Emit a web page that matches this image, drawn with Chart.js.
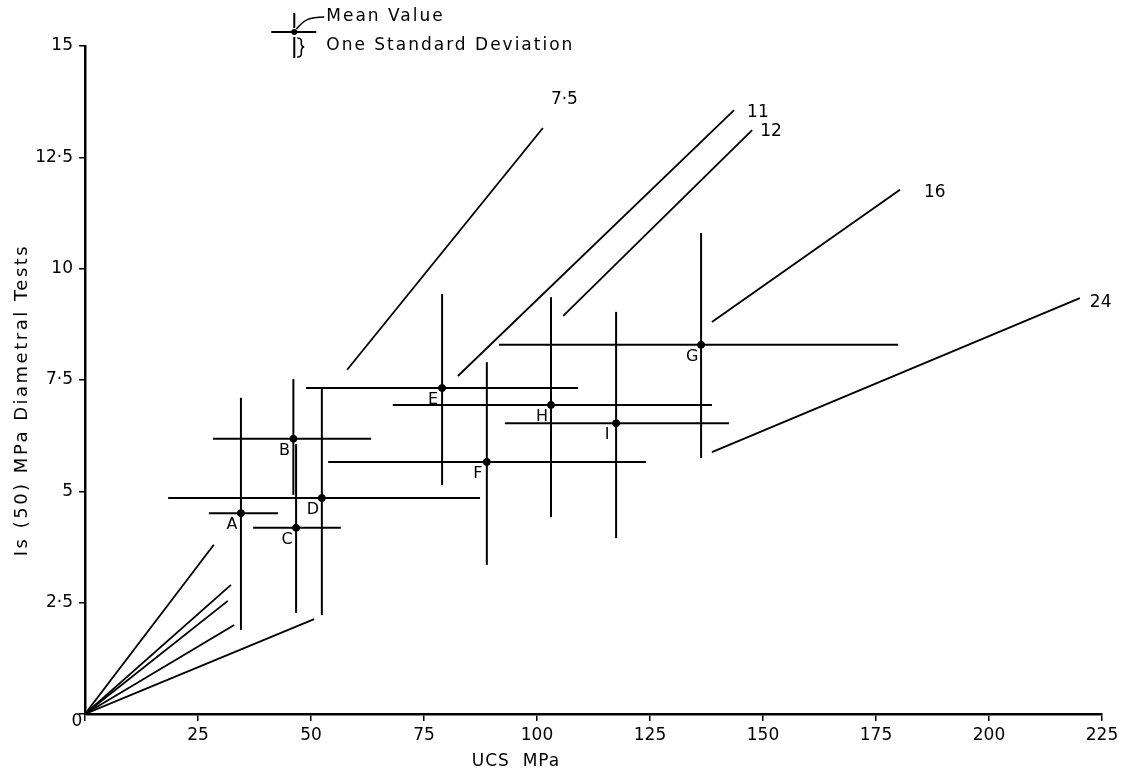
<!DOCTYPE html>
<html>
<head>
<meta charset="utf-8">
<script src="https://cdn.jsdelivr.net/npm/chart.js@4.4.1/dist/chart.umd.min.js"></script>
<style>
  html, body { margin: 0; padding: 0; background: #fff; }
  canvas { display: block; }
</style>
</head>
<body>
<canvas id="graficaIs" width="1125" height="775"></canvas>
<script>
// muestras A..I : media y una desviacion estandar (UCS MPa / Is(50) MPa)
const sampleLabels = ['A', 'B', 'C', 'D', 'E', 'F', 'G', 'H', 'I'];
const ucsMean = [34.5, 46.1, 46.7, 52.4, 79.0, 88.9, 136.3, 103.1, 117.5];
const ucsLow  = [27.4, 28.3, 37.2, 18.4, 48.9, 53.8, 91.6, 68.1, 92.9];
const ucsHigh = [42.7, 63.3, 56.6, 87.4, 109.1, 124.1, 179.9, 138.7, 142.5];
const isMean  = [4.51, 6.18, 4.18, 4.85, 7.32, 5.66, 8.29, 6.94, 6.53];
const isLow   = [1.89, 4.92, 2.27, 2.22, 5.14, 3.35, 5.75, 4.42, 3.95];
const isHigh  = [7.10, 7.52, 6.06, 7.34, 9.43, 7.90, 10.80, 9.36, 9.03];

// lineas de relacion UCS / Is
const ratioLabels = ['7·5', '11', '12', '16', '24'];
const nearEndUcs  = [28.5, 32.3, 31.6, 33.0, 50.7];
const nearEndIs   = [3.80, 2.90, 2.54, 2.00, 2.13];
const farStartUcs = [58.0, 82.5, 105.8, 138.7, 138.7];
const farStartIs  = [7.73, 7.59, 8.94, 8.80, 5.88];
const farEndUcs   = [101.3, 143.6, 147.6, 180.3, 220.1];
const farEndIs    = [13.16, 13.56, 13.11, 11.77, 9.34];

// ejes
const ucsTicks = [0, 25, 50, 75, 100, 125, 150, 175, 200, 225];
const isTicks = ['0', '2·5', '5', '7·5', '10', '12·5', '15'];

const fuente = '"DejaVu Sans", sans-serif';

let datasets = [];

sampleLabels.forEach((l, i) => {
  datasets.push({
    data: [{x: ucsLow[i], y: isMean[i]}, {x: ucsHigh[i], y: isMean[i]}],
    borderColor: '#000', borderWidth: 2, pointRadius: 0, showLine: true
  });
  datasets.push({
    data: [{x: ucsMean[i], y: isLow[i]}, {x: ucsMean[i], y: isHigh[i]}],
    borderColor: '#000', borderWidth: 2, pointRadius: 0, showLine: true
  });
});

ratioLabels.forEach((l, i) => {
  datasets.push({
    data: [{x: 0, y: 0}, {x: nearEndUcs[i], y: nearEndIs[i]}],
    borderColor: '#000', borderWidth: 1.8, pointRadius: 0, showLine: true
  });
  datasets.push({
    data: [{x: farStartUcs[i], y: farStartIs[i]}, {x: farEndUcs[i], y: farEndIs[i]}],
    borderColor: '#000', borderWidth: 1.8, pointRadius: 0, showLine: true
  });
});

datasets.push({
  label: 'Mean Value',
  data: ucsMean.map((v, i) => ({x: v, y: isMean[i]})),
  backgroundColor: '#000', borderColor: '#000',
  pointRadius: 3.5, showLine: false
});

const anotaciones = {
  id: 'anotaciones',
  afterDatasetsDraw(chart) {
    const {ctx, scales: {x, y}, chartArea} = chart;
    ctx.save();
    ctx.fillStyle = '#000';
    ctx.strokeStyle = '#000';

    // letras de las muestras
    ctx.font = '16px ' + fuente;
    ctx.textAlign = 'center';
    ctx.textBaseline = 'middle';
    sampleLabels.forEach((l, i) => {
      ctx.fillText(l, x.getPixelForValue(ucsMean[i]) - 9, y.getPixelForValue(isMean[i]) + 12);
    });

    // etiquetas de las lineas
    const offs = [[8, -28], [13, 2], [8, 1], [24, 3], [10, 5]];
    ctx.font = '17px ' + fuente;
    ctx.textAlign = 'left';
    ratioLabels.forEach((l, i) => {
      ctx.fillText(l, x.getPixelForValue(farEndUcs[i]) + offs[i][0], y.getPixelForValue(farEndIs[i]) + offs[i][1]);
    });

    // cero del origen
    ctx.textAlign = 'center';
    ctx.fillText('0', chartArea.left - 8, chartArea.bottom + 8);

    // titulos de ejes
    ctx.font = '17px ' + fuente;
    ctx.letterSpacing = '1px';
    ctx.fillText('UCS  MPa', 516, 762);
    ctx.save();
    ctx.translate(22, 400);
    ctx.rotate(-Math.PI / 2);
    ctx.font = '18px ' + fuente;
    ctx.letterSpacing = '2.5px';
    ctx.fillText('Is (50) MPa Diametral Tests', 0, 0);
    ctx.restore();

    // leyenda
    const lx = x.getPixelForValue(46.3);
    const ly = 32;
    ctx.lineWidth = 2;
    ctx.beginPath();
    ctx.moveTo(lx - 23, ly); ctx.lineTo(lx + 22, ly);
    ctx.moveTo(lx, ly - 19); ctx.lineTo(lx, ly - 4);
    ctx.moveTo(lx, ly + 5); ctx.lineTo(lx, ly + 26);
    ctx.stroke();
    ctx.beginPath();
    ctx.arc(lx, ly, 3, 0, Math.PI * 2);
    ctx.fill();
    ctx.lineWidth = 1.6;
    ctx.beginPath();
    ctx.moveTo(lx + 2, ly - 3);
    ctx.bezierCurveTo(lx + 10, ly - 12, lx + 14, ly - 15, lx + 30, ly - 15);
    ctx.stroke();
    // llave
    ctx.beginPath();
    ctx.moveTo(lx + 3, ly + 6);
    ctx.quadraticCurveTo(lx + 8, ly + 6, lx + 7, ly + 11);
    ctx.quadraticCurveTo(lx + 7, ly + 15, lx + 10, ly + 15);
    ctx.quadraticCurveTo(lx + 7, ly + 15, lx + 7, ly + 20);
    ctx.quadraticCurveTo(lx + 8, ly + 25, lx + 3, ly + 25);
    ctx.stroke();
    ctx.font = '17px ' + fuente;
    ctx.letterSpacing = '2px';
    ctx.textAlign = 'left';
    ctx.fillText('Mean Value', lx + 32, ly - 15);
    ctx.fillText('One Standard Deviation', lx + 32, ly + 14);
    ctx.restore();
  }
};

new Chart(document.getElementById('graficaIs'), {
  type: 'scatter',
  data: { datasets: datasets },
  plugins: [anotaciones],
  options: {
    animation: false,
    responsive: false,
    layout: { padding: { left: 0, top: 46, right: 23, bottom: 0 } },
    plugins: {
      legend: { display: false },
      tooltip: { enabled: false }
    },
    scales: {
      x: {
        type: 'linear',
        min: 0, max: 225,
        afterFit: (s) => { s.height = 61; },
        afterBuildTicks: (s) => { s.ticks = ucsTicks.map(v => ({value: v})); },
        ticks: {
          color: '#000', padding: 4,
          font: { family: fuente, size: 17 },
          callback: (v) => v === 0 ? '' : String(v)
        },
        grid: { drawOnChartArea: false, tickLength: 7, color: '#000', lineWidth: 1.5 },
        border: { color: '#000', width: 2.5 }
      },
      y: {
        type: 'linear',
        min: 0, max: 15,
        afterFit: (s) => { s.width = 85; },
        afterBuildTicks: (s) => { s.ticks = isTicks.map((t, i) => ({value: i * 2.5})); },
        ticks: {
          color: '#000', padding: 6,
          font: { family: fuente, size: 17 },
          callback: (v, i) => i === 0 ? '' : isTicks[i]
        },
        grid: { drawOnChartArea: false, tickLength: 6, color: '#000', lineWidth: 1.5 },
        border: { color: '#000', width: 2.5 }
      }
    }
  }
});
</script>
</body>
</html>
